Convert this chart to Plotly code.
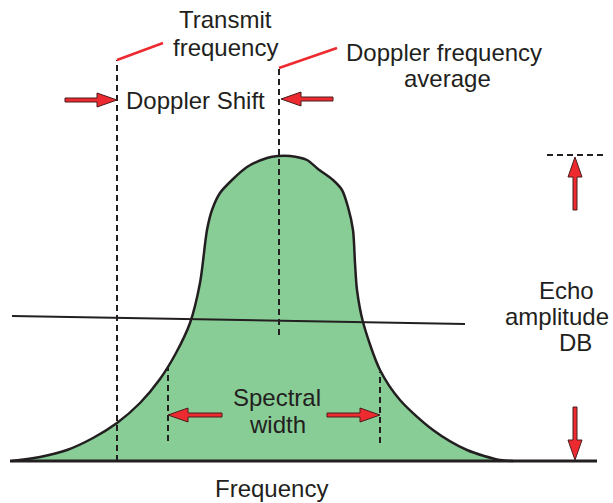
import plotly.graph_objects as go

# ---- data (frequency units on x, amplitude units on y; baseline = 0) ----
curve_freq = [12, 40, 67, 93, 117, 140, 160, 176, 190, 200, 207, 212, 220, 232, 247, 267, 278,
              290, 307, 318, 333, 342, 348, 353, 355, 357, 363, 380, 400, 433, 467, 500, 513]
curve_amp = [0, 4, 11, 23, 38, 58, 82, 108, 138, 178, 231, 251, 268, 281, 294, 303, 305,
             305, 301, 292, 281, 271, 254, 231, 198, 171, 139, 91, 61, 31, 11, 1, 0]

baseline_freq = [10, 597]
baseline_amp = [0, 0]

threshold_freq = [12, 465]
threshold_amp = [145, 137]

# dashed markers: (x0, y0, x1, y1)
dashed_segments = [
    (117, 0, 117, 401),     # transmit frequency
    (279, 126, 279, 394),   # doppler frequency average
    (168, 20, 168, 93),     # spectral width left
    (380, 18, 380, 89),     # spectral width right
    (547, 306, 605, 306),   # peak level
]

# red leader lines
leader_segments = [
    (117, 401, 163, 418),
    (279, 393, 337, 413),
]

# arrows: (tail_x, tail_y, tip_x, tip_y)
arrows = [
    (65, 361, 117, 361),
    (333, 362, 281, 362),
    (222, 46, 168, 46),
    (327, 46, 380, 46),
    (575, 251, 575, 304),
    (575, 54, 575, 1),
]

# labels: (text, x, y, anchor)
labels = [
    ("Transmit", 225, 442, "center"),
    ("frequency", 225, 414, "center"),
    ("Doppler frequency", 444, 409, "center"),
    ("average", 447, 383, "center"),
    ("Doppler Shift", 195, 361, "center"),
    ("Spectral", 277, 64, "center"),
    ("width", 277, 37, "center"),
    ("Echo", 566, 171, "center"),
    ("amplitude", 611, 145, "right"),
    ("DB", 575, 119, "center"),
    ("Frequency", 271, -27, "center"),
]

INK = "#231f20"
RED = "#ec2a2f"
GREEN = "#88cc96"
FONT = "Liberation Sans, Arial, sans-serif"

fig = go.Figure()

# filled spectrum
fig.add_trace(go.Scatter(x=curve_freq, y=curve_amp, mode="lines",
                         line=dict(color=INK, width=2.5, shape="spline", smoothing=0.8),
                         fill="tozeroy", fillcolor=GREEN, hoverinfo="skip"))

# threshold line
fig.add_trace(go.Scatter(x=threshold_freq, y=threshold_amp, mode="lines",
                         line=dict(color=INK, width=2), hoverinfo="skip"))

# dashed lines
for x0, y0, x1, y1 in dashed_segments:
    fig.add_trace(go.Scatter(x=[x0, x1], y=[y0, y1], mode="lines",
                             line=dict(color=INK, width=2, dash="6px,4px"), hoverinfo="skip"))

# baseline
fig.add_trace(go.Scatter(x=baseline_freq, y=baseline_amp, mode="lines",
                         line=dict(color=INK, width=3), hoverinfo="skip"))

# leaders
for x0, y0, x1, y1 in leader_segments:
    fig.add_trace(go.Scatter(x=[x0, x1], y=[y0, y1], mode="lines",
                             line=dict(color=RED, width=2.5), hoverinfo="skip"))

# arrows as filled polygons
HEAD_L, HEAD_W, SHAFT_W = 20, 7, 2
for tx, ty, px, py in arrows:
    dx, dy = px - tx, py - ty
    ln = (dx * dx + dy * dy) ** 0.5
    ux, uy = dx / ln, dy / ln
    nx, ny = -uy, ux
    bx, by = px - ux * HEAD_L, py - uy * HEAD_L
    pts = [
        (tx + nx * SHAFT_W, ty + ny * SHAFT_W),
        (bx + nx * SHAFT_W, by + ny * SHAFT_W),
        (bx + nx * HEAD_W, by + ny * HEAD_W),
        (px, py),
        (bx - nx * HEAD_W, by - ny * HEAD_W),
        (bx - nx * SHAFT_W, by - ny * SHAFT_W),
        (tx - nx * SHAFT_W, ty - ny * SHAFT_W),
        (tx + nx * SHAFT_W, ty + ny * SHAFT_W),
    ]
    fig.add_trace(go.Scatter(x=[p[0] for p in pts], y=[p[1] for p in pts], mode="lines",
                             fill="toself", fillcolor=RED,
                             line=dict(color="#4a1c1c", width=1), hoverinfo="skip"))

for text, x, y, anchor in labels:
    fig.add_annotation(x=x, y=y, xref="x", yref="y", text=text, showarrow=False,
                       xanchor=anchor, yanchor="middle",
                       font=dict(family=FONT, size=24, color=INK))

fig.update_layout(
    width=613, height=503,
    margin=dict(l=0, r=0, t=0, b=0),
    paper_bgcolor="white", plot_bgcolor="white",
    showlegend=False,
    xaxis=dict(range=[0, 613], visible=False, fixedrange=True),
    yaxis=dict(range=[-42, 461], visible=False, fixedrange=True),
)

fig.write_html("out.html", config={"displayModeBar": False},
               post_script="document.body.style.margin='0';document.body.style.overflow='hidden';")
